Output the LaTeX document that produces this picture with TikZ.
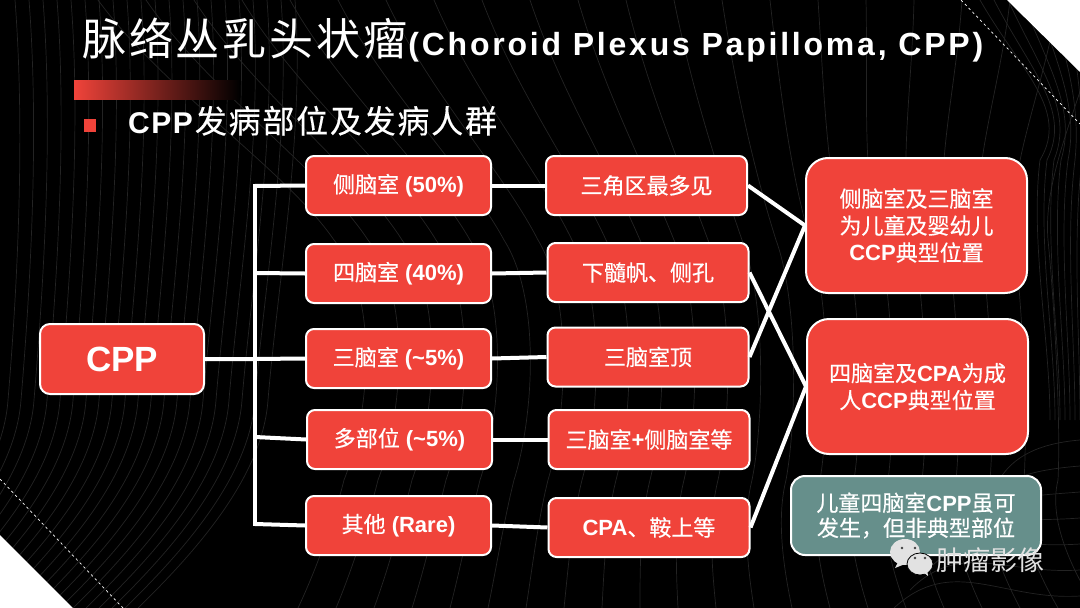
\documentclass[tikz,border=0pt]{standalone}
\usepackage{fontspec}
\setmainfont{Liberation Sans}
\newfontfamily\cjk[FakeBold=0.4]{Noto Sans CJK SC}
\newfontfamily\cjkthin{Noto Sans CJK SC}
\newfontfamily\cjktitle[LetterSpace=6.5]{Noto Sans CJK SC}
\newfontfamily\lattitle[LetterSpace=8.7]{Liberation Sans}
\newfontfamily\cjksub[LetterSpace=5.5,FakeBold=0.3]{Noto Sans CJK SC}
\newfontfamily\latsub[LetterSpace=5]{Liberation Sans}
\newcommand{\zh}[1]{{\mdseries\cjk #1}}
\definecolor{boxred}{HTML}{F0433A}
\definecolor{boxteal}{HTML}{668F8B}
\definecolor{contour}{HTML}{232323}
\definecolor{markgray}{HTML}{E2E2E2}
\usetikzlibrary{calc}
\tikzset{
  x=1pt,y=-1pt,
  basebox/.style={draw=white,line width=2pt,fill=boxred,text=white,align=center,inner sep=0pt,
    font=\fontsize{22}{27}\selectfont\bfseries},
  smallbox/.style={basebox,rounded corners=8pt,minimum width=185pt,minimum height=59pt},
  midbox/.style={basebox,rounded corners=8pt,minimum width=201pt,minimum height=59pt},
  rootbox/.style={basebox,rounded corners=10pt,minimum width=164pt,minimum height=70pt,font=\fontsize{35}{40}\selectfont\bfseries},
  bigbox/.style={basebox,rounded corners=22pt,minimum width=221pt,minimum height=135pt},
  notebox/.style={basebox,fill=boxteal,rounded corners=14pt,minimum width=250pt,minimum height=79pt,font=\fontsize{22}{25}\selectfont\bfseries},
  link/.style={draw=white,line width=4pt},
  contourline/.style={draw=contour,line width=0.7pt},
  plain/.style={text=white,inner sep=0pt},
}
\begin{document}
\begin{tikzpicture}
\useasboundingbox (0,0) rectangle (1080,608);
\fill[black] (0,0) rectangle (1080,608);
% contour lines of the backdrop
\begin{scope}
\clip (0,0) rectangle (1080,608);
\foreach \i in {0,...,20}{
  \draw[contourline] ({15+\i*14},0) .. controls ({25+\i*14},130) and ({18+\i*13},280) .. ({8+\i*13},400)
     .. controls ({3+\i*13},470) and ({-52+\i*13},540) .. ({-122+\i*13},608);
}
\foreach \i in {-4,...,17}{
  \draw[contourline] ({290+\i*48},0) .. controls ({340+\i*44},90) and ({430+\i*36},170) .. ({470+\i*34},240)
     .. controls ({510+\i*32},300) and ({500+\i*33},420) .. ({480+\i*34},480)
     .. controls ({470+\i*34},520) and ({460+\i*36},570) .. ({450+\i*38},608);
}
\foreach \i in {0,...,6}{
  \draw[contourline] (1080,{440+\i*26}) .. controls ({1020-\i*3},{445+\i*26}) and ({1000-\i*8},{470+\i*14}) .. ({990-\i*16},{500+\i*18});
  \draw[contourline] ({980+\i*14},0) .. controls ({1020+\i*10},70) and ({1070+\i*2},110) .. ({1040+\i*7},160)
     .. controls ({1030+\i*7},240) and ({1050+\i*5},340) .. ({1050+\i*5},420);
}
\end{scope}
% corners
\fill[white] (0,535) -- (73,608) -- (0,608) -- cycle;
\fill[white] (1007,0) -- (1080,72) -- (1080,0) -- cycle;
\draw[white,line width=0.7pt,dash pattern=on 2.5pt off 3pt] (0,479) -- (123,608);
\draw[white,line width=0.7pt,dash pattern=on 2.5pt off 3pt] (961,0) -- (1080,124);
% header
\node[plain,anchor=base west] (title) at (82,55)
  {\fontsize{44}{46}\selectfont{\cjktitle 脉络丛乳头状瘤}\hspace{1pt}\fontsize{32}{36}\selectfont{\lattitle\bfseries (Choroid Plexus Papilloma, CPP)}};
\shade[left color=boxred,right color=black] (74,80) rectangle (240,99);
\fill[boxred] (84,119) rectangle (96,132);
\node[plain,anchor=base west] (subtitle) at (128,133)
  {\fontsize{30}{34}\selectfont{\latsub\bfseries CPP}\hspace{2pt}\fontsize{32}{34}\selectfont{\cjksub 发病部位及发病人群}};
% nodes
\node[rootbox] (root) at (122,359) {CPP};
\node[smallbox] (a) at (398.5,185.5) {\zh{侧脑室} (50\%)};
\node[smallbox] (b) at (398.5,273.5) {\zh{四脑室} (40\%)};
\node[smallbox] (c) at (398.5,358.5) {\zh{三脑室} (\textasciitilde5\%)};
\node[smallbox] (d) at (399.5,439.5) {\zh{多部位} (\textasciitilde5\%)};
\node[smallbox] (e) at (398.5,525.5) {\zh{其他} (Rare)};
\node[midbox] (a2) at (646.5,185.5) {\zh{三角区最多见}};
\node[midbox] (b2) at (648,272.5) {\zh{下髓帆、侧孔}};
\node[midbox] (c2) at (648,357) {\zh{三脑室顶}};
\node[midbox] (d2) at (649,439.5) {\zh{三脑室}+\zh{侧脑室等}};
\node[midbox] (e2) at (649,527.5) {CPA\zh{、鞍上等}};
\node[bigbox] (r1) at (916.5,225.5) {\zh{侧脑室及三脑室}\\\zh{为儿童及婴幼儿}\\CCP\zh{典型位置}};
\node[bigbox] (r2) at (917.5,386.5) {\zh{四脑室及}CPA\zh{为成}\\\zh{人}CCP\zh{典型位置}};
\node[notebox] (note) at (916,515.5) {\zh{儿童四脑室}CPP\zh{虽可}\\\zh{发生，但非典型部位}};
% connectors
\coordinate (top) at (255,186);
\coordinate (bottom) at (255,524);
\coordinate (bj) at (255,273);
\coordinate (dj) at (255,437);
\coordinate (rj) at (255,359);
\draw[link,line cap=rect] (top) -- (bottom);
\draw[link] (top) -- (a.west);
\draw[link] (bj) -- (b.west);
\draw[link] (root.east) -- (rj) -- (c.west);
\draw[link] (dj) -- (d.west);
\draw[link] (bottom) -- (e.west);
\draw[link] (a.east) -- (a2.west);
\draw[link] (b.east) -- (b2.west);
\draw[link] (c.east) -- (c2.west);
\draw[link] (d.east) -- (d2.west);
\draw[link] (e.east) -- (e2.west);
\draw[link] (a2.east) -- (r1.west);
\draw[link] (c2.east) -- (r1.west);
\draw[link] (b2.east) -- (r2.west);
\draw[link] (e2.east) -- (r2.west);
% watermark
\begin{scope}
\fill[markgray] (900,558) -- (895,568) -- (910,562) -- cycle;
\fill[markgray] (905,552) ellipse (15pt and 13pt);
\draw[black,line width=0.8pt,fill=markgray] (920,564) ellipse (13pt and 11pt);
\fill[markgray] (923,572) -- (928,576) -- (927,568) -- cycle;
\fill[black!75] (902,548) circle (1.4pt) (915,548) circle (1.4pt) (915,558) circle (1.3pt) (925,558) circle (1.3pt);
\end{scope}
\node[plain,text=markgray,anchor=base west] (mark) at (936,570) {\fontsize{27}{30}\selectfont\cjkthin 肿瘤影像};
\end{tikzpicture}
\end{document}
